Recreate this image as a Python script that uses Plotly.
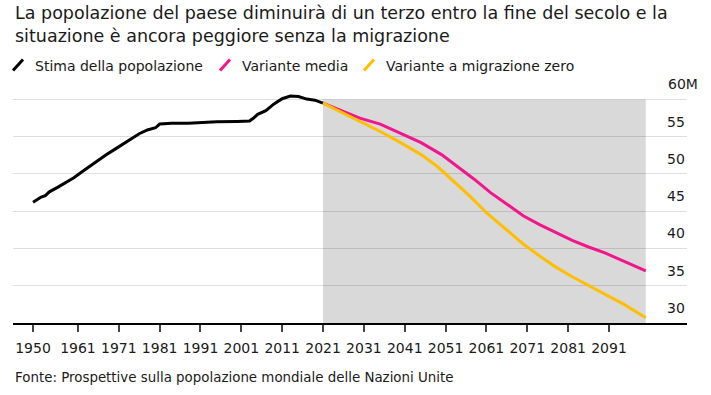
import plotly.graph_objects as go

# ---------------- data ----------------
hist_years = [1950, 1952, 1953, 1954, 1956, 1958, 1960, 1962, 1964, 1966, 1968, 1970,
              1972, 1974, 1976, 1978, 1980, 1981, 1984, 1988, 1991, 1995, 2000, 2003,
              2004, 2005, 2007, 2009, 2011, 2013, 2015, 2017, 2019, 2021]
hist_pop = [46.2, 46.9, 47.1, 47.6, 48.2, 48.8, 49.5, 50.3, 51.1, 51.9, 52.6, 53.3,
            54.0, 54.7, 55.4, 55.9, 56.2, 56.7, 56.8, 56.8, 56.9, 57.0, 57.05, 57.1,
            57.5, 58.0, 58.5, 59.4, 60.1, 60.45, 60.4, 60.05, 59.9, 59.5]

med_years = [2021, 2025, 2030, 2035, 2040, 2045, 2050, 2054, 2058, 2062, 2066, 2070,
             2074, 2078, 2082, 2086, 2090, 2095, 2100]
med_pop = [59.5, 58.6, 57.5, 56.7, 55.5, 54.2, 52.6, 51.0, 49.3, 47.5, 45.9, 44.4,
           43.2, 42.1, 41.1, 40.2, 39.4, 38.2, 37.0]

zero_years = [2021, 2025, 2030, 2035, 2040, 2045, 2049, 2053, 2057, 2061, 2066, 2070,
              2074, 2078, 2082, 2086, 2090, 2095, 2100]
zero_pop = [59.5, 58.4, 57.0, 55.7, 54.2, 52.6, 51.0, 49.0, 47.0, 44.8, 42.4, 40.6,
            39.0, 37.5, 36.2, 35.0, 33.8, 32.4, 30.7]

x_ticks = [1950, 1961, 1971, 1981, 1991, 2001, 2011, 2021, 2031, 2041, 2051, 2061, 2071, 2081, 2091]
x_tick_labels = [str(v) for v in x_ticks]
y_ticks = [30, 35, 40, 45, 50, 55, 60]
y_tick_labels = ["30", "35", "40", "45", "50", "55", "60M"]

series_names = ["Stima della popolazione", "Variante media", "Variante a migrazione zero"]
series_colors = ["#000000", "#f0168c", "#ffbf00"]

title_text = ("La popolazione del paese diminuirà di un terzo entro la fine del secolo e la<br>"
              "situazione è ancora peggiore senza la migrazione")
source_text = "Fonte: Prospettive sulla popolazione mondiale delle Nazioni Unite"

# ---------------- layout geometry ----------------
W, H = 711, 395
PL, PR, PT, PB = 13, 687, 92, 323.5   # plot area in window pixels
ML, MR, MT, MB = PL, W - PR, PT, H - PB
PW, PH = PR - PL, PB - PT
FONT = "DejaVu Sans"
TXT = "#1a1a1a"


def px_x(px):
    return (px - PL) / PW


def px_y(py):
    return (PB - py) / PH


fig = go.Figure()
for xs, ys, name, col in [(hist_years, hist_pop, series_names[0], series_colors[0]),
                          (med_years, med_pop, series_names[1], series_colors[1]),
                          (zero_years, zero_pop, series_names[2], series_colors[2])]:
    fig.add_trace(go.Scatter(x=xs, y=ys, mode="lines", name=name,
                             line=dict(color=col, width=3), showlegend=False,
                             hoverinfo="skip"))

# projection shading
fig.add_shape(type="rect", xref="x", yref="y", x0=med_years[0], x1=med_years[-1],
              y0=y_ticks[0], y1=y_ticks[-1], fillcolor="#d9d9d9", line_width=0, layer="below")

annotations = []
# title
annotations.append(dict(text=title_text, xref="paper", yref="paper", x=px_x(13), y=px_y(1),
                        xanchor="left", yanchor="top", align="left", showarrow=False,
                        font=dict(family=FONT, size=17.5, color=TXT)))
# legend
leg_x = [35, 242, 386]
for name, col, lx in zip(series_names, series_colors, leg_x):
    annotations.append(dict(text=name, xref="paper", yref="paper", x=px_x(lx - 2), y=px_y(66),
                            xanchor="left", yanchor="middle", showarrow=False,
                            font=dict(family=FONT, size=14, color=TXT)))
    fig.add_shape(type="line", xref="paper", yref="paper",
                  x0=px_x(lx - 22), y0=px_y(70.5), x1=px_x(lx - 12), y1=px_y(59.5),
                  line=dict(color=col, width=3))
# y labels
for v, t in zip(y_ticks, y_tick_labels):
    shift = 13 if t.endswith("M") else 0
    annotations.append(dict(text=t, xref="paper", yref="y", x=1, y=v, xanchor="right",
                            yanchor="middle", yshift=15, xshift=shift, showarrow=False,
                            font=dict(family=FONT, size=14, color=TXT)))
# source
annotations.append(dict(text=source_text, xref="paper", yref="paper", x=px_x(13), y=px_y(378),
                        xanchor="left", yanchor="middle", showarrow=False,
                        font=dict(family=FONT, size=13.4, color=TXT)))

fig.update_layout(
    width=W, height=H,
    margin=dict(l=ML, r=MR, t=MT, b=MB, pad=0),
    paper_bgcolor="white", plot_bgcolor="white",
    showlegend=False,
    annotations=annotations,
    xaxis=dict(range=[1945.1, 2110.1], tickvals=x_ticks, ticktext=x_tick_labels,
               showgrid=False, zeroline=False, showline=True, linecolor="#000000",
               linewidth=1.5, ticks="outside", ticklen=7, tickcolor="#444444", tickwidth=1.5,
               ticklabelstandoff=4,
               tickfont=dict(family=FONT, size=14, color=TXT), fixedrange=True),
    yaxis=dict(range=[30, 61], tickvals=y_ticks, showticklabels=False, showgrid=True,
               gridcolor="rgba(0,0,0,0.13)", gridwidth=1, zeroline=False, showline=False,
               fixedrange=True),
)

fig.write_html("out.html", config={"displayModeBar": False},
               post_script="document.body.style.margin='0';document.body.style.overflow='hidden';")
